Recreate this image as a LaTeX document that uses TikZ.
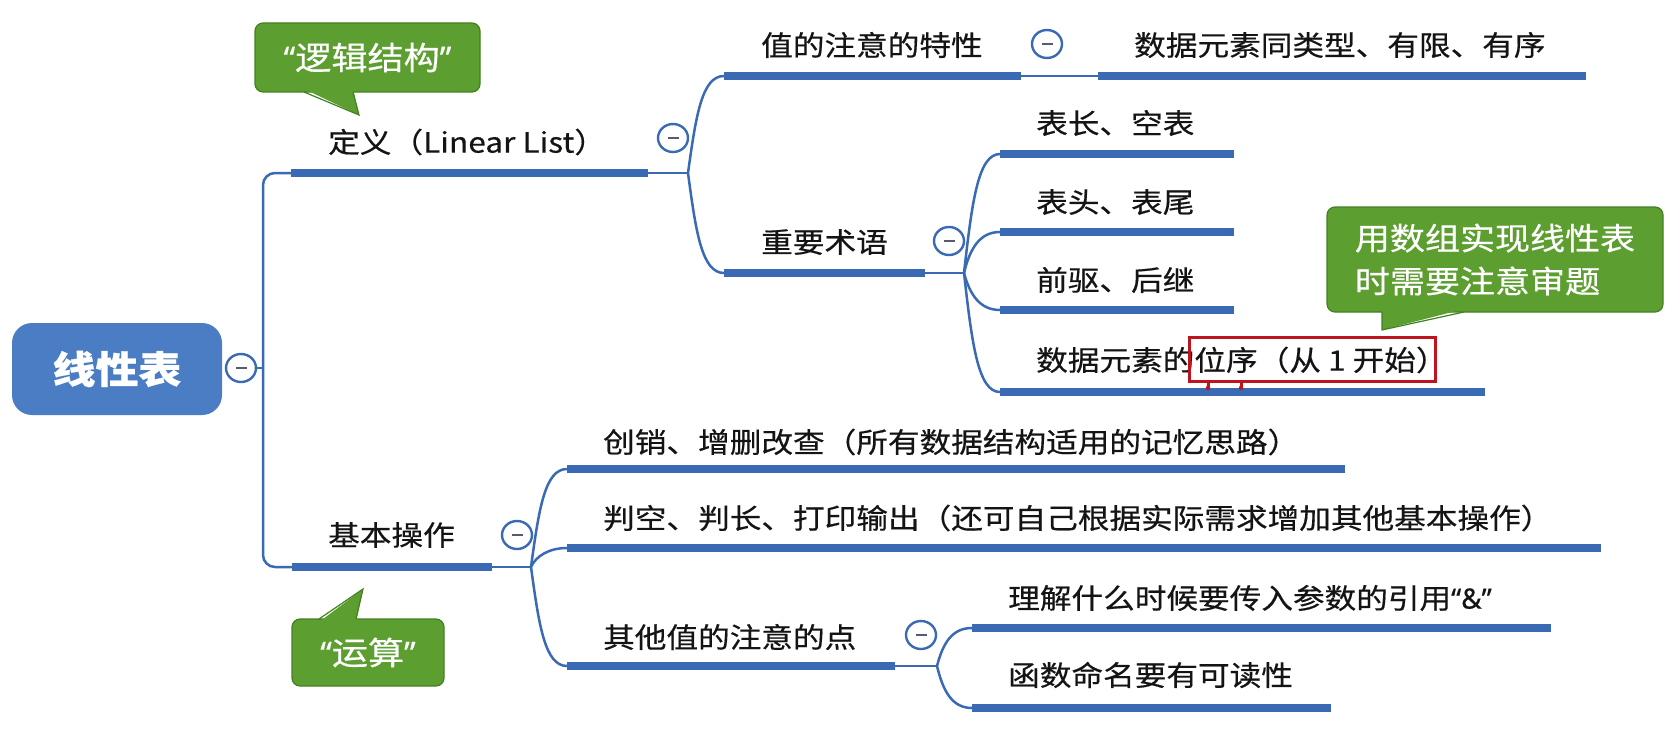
\documentclass[tikz,border=0pt]{standalone}
\usepackage{fontspec}
\usetikzlibrary{shapes.geometric}
\newfontfamily\cjk[FakeStretch=1.13,FakeBold=0.5]{Noto Sans CJK SC}
\newfontfamily\lat[FakeBold=0.5]{Noto Sans}
\definecolor{lineblue}{RGB}{58,106,180}
\definecolor{rootblue}{RGB}{74,125,195}
\definecolor{cgreen}{RGB}{92,158,48}
\definecolor{cborder}{RGB}{66,128,34}
\definecolor{txt}{RGB}{20,20,20}
\definecolor{minusgray}{RGB}{90,90,110}
\definecolor{hlred}{RGB}{190,20,30}
\begin{document}
\begin{tikzpicture}[x=1pt,y=-1pt,
  topic/.style={font=\cjk\fontsize{28}{34}\selectfont, text=txt, anchor=west, inner sep=0pt},
  bar/.style={line width=7.5pt, draw=lineblue},
  conn/.style={line width=2.5pt, draw=lineblue},
  collapse/.style={ellipse, draw=lineblue, line width=2.4pt, fill=white, minimum width=30pt, minimum height=28pt, inner sep=0pt,
    path picture={\draw[line width=2.8pt, minusgray] ([xshift=-5.5pt]path picture bounding box.center) -- ([xshift=5.5pt]path picture bounding box.center);}},
  callout/.style={rounded corners=8pt, fill=cgreen, draw=cborder, line width=1.2pt, text=white, inner sep=0pt},
  cfont/.style={font=\cjk\fontsize{32}{38}\selectfont}
]
\path[use as bounding box] (0,0) rectangle (1675,741);

% ---------- root ----------
\node[rounded corners=20pt, fill=rootblue, minimum width=210pt, minimum height=92pt, text=white,
      font=\cjk\bfseries\fontsize{38}{44}\selectfont] (root) at (117,369) {线性表};
\node[collapse] (rootc) at (241,368) {};
\coordinate (trunk) at (263,368);

% ---------- coordinates of bars ----------
\coordinate (defL) at (291,173);  \coordinate (defR) at (648,173);  \coordinate (J1) at (688,173);
\coordinate (vL) at (724,76);     \coordinate (vR) at (1021,76);
\coordinate (v1L) at (1098,76);   \coordinate (v1R) at (1586,76);
\coordinate (termL) at (724,273); \coordinate (termR) at (925,273); \coordinate (J2) at (964,273);
\coordinate (t1L) at (1000,154);  \coordinate (t1R) at (1234,154);
\coordinate (t2L) at (1000,232);  \coordinate (t2R) at (1234,232);
\coordinate (t3L) at (1000,310);  \coordinate (t3R) at (1234,310);
\coordinate (t4L) at (1000,392);  \coordinate (t4R) at (1485,392);
\coordinate (opsL) at (292,567);  \coordinate (opsR) at (492,567);  \coordinate (J3) at (531,567);
\coordinate (o1L) at (567,469);   \coordinate (o1R) at (1345,469);
\coordinate (o2L) at (567,548);   \coordinate (o2R) at (1601,548);
\coordinate (o3L) at (567,666);   \coordinate (o3R) at (895,666);   \coordinate (J4) at (937,666);
\coordinate (o31L) at (972,628);  \coordinate (o31R) at (1551,628);
\coordinate (o32L) at (972,708);  \coordinate (o32R) at (1331,708);

% ---------- trunk ----------
\draw[conn] (rootc.east) -- (trunk);
\draw[conn, rounded corners=12pt] (defL) -| (trunk) |- (opsL);

% ---------- bars ----------
\foreach \a in {def,v,v1,term,t1,t2,t3,t4,ops,o1,o2,o3,o31,o32}
  \draw[bar] (\a L) -- (\a R);

% ---------- thin connectors ----------
\draw[conn] (defR) -- (J1);
\draw[conn] (vR) -- (v1L);
\draw[conn] (termR) -- (J2);
\draw[conn] (opsR) -- (J3);
\draw[conn] (o3R) -- (J4);

\draw[conn] (J1) .. controls +(8,-58) and +(-22,0) .. (vL);
\draw[conn] (J1) .. controls +(8,60) and +(-22,0) .. (termL);

\draw[conn] (J2) .. controls +(8,-71) and +(-22,0) .. (t1L);
\draw[conn] (J2) .. controls +(6,-25) and +(-20,0) .. (t2L);
\draw[conn] (J2) .. controls +(6,22) and +(-20,0) .. (t3L);
\draw[conn] (J2) .. controls +(8,71) and +(-22,0) .. (t4L);

\draw[conn] (J3) .. controls +(8,-59) and +(-22,0) .. (o1L);
\draw[conn] (J3) .. controls +(5,-11) and +(-18,0) .. (o2L);
\draw[conn] (J3) .. controls +(8,59) and +(-22,0) .. (o3L);

\draw[conn] (J4) .. controls +(6,-23) and +(-20,0) .. (o31L);
\draw[conn] (J4) .. controls +(6,25) and +(-20,0) .. (o32L);

% ---------- collapse buttons ----------
\node[collapse] (cdef) at (673,138) {};
\node[collapse] (cv) at (1047,44) {};
\node[collapse] (cterm) at (949,241) {};
\node[collapse] (cops) at (517,535) {};
\node[collapse] (co3) at (921,635) {};

% ---------- texts ----------
\node[topic] (def) at (328,142) {定义（Linear List）};
\node[topic] (v) at (761,45) {值的注意的特性};
\node[topic] (v1) at (1134,45) {数据元素同类型、有限、有序};
\node[topic] (term) at (761,242) {重要术语};
\node[topic] (t1) at (1036,123) {表长、空表};
\node[topic] (t2) at (1036,202) {表头、表尾};
\node[topic] (t3) at (1036,280) {前驱、后继};
\node[topic] (t4) at (1036,360) {数据元素的位序（从 1 开始）};
\node[topic] (ops) at (328,535) {基本操作};
\node[topic] (o1) at (603,442) {创销、增删改查（所有数据结构适用的记忆思路）};
\node[topic] (o2) at (603,518) {判空、判长、打印输出（还可自己根据实际需求增加其他基本操作）};
\node[topic] (o3) at (603,637) {其他值的注意的点};
\node[topic] (o31) at (1008,598) {理解什么时候要传入参数的引用{\lat “\&”}};
\node[topic] (o32) at (1008,675) {函数命名要有可读性};

% ---------- highlight ----------
\node[draw=hlred, line width=3pt, minimum width=246pt, minimum height=44pt, inner sep=0pt] (hl) at (1312,359) {};
\draw[hlred, line width=3pt] (1208,381) -- (1208,387);
\draw[hlred, line width=3pt] (1241,381) -- (1241,387);
\fill[hlred] (1208,388) circle (2.2pt) (1241,388) circle (2.2pt);

% ---------- callouts ----------
\node[callout, cfont, minimum width=225pt, minimum height=69pt] (c1) at (367.5,57.5) {{\lat “}逻辑结构{\lat ”}};
\fill[cgreen] (304,89) -- (359,115) -- (353,89) -- cycle;
\draw[cborder, line width=1.2pt, line join=miter] (304,92) -- (359,115) -- (353,92);

\node[callout, minimum width=336pt, minimum height=105pt, font=\cjk\fontsize{31}{43}\selectfont, align=left] (c2) at (1495,259.5) {用数组实现线性表\\时需要注意审题};
\fill[cgreen] (1382,309) -- (1382,330) -- (1464,309) -- cycle;
\draw[cborder, line width=1.2pt] (1382,312) -- (1382,330) -- (1464,312);

\node[callout, cfont, minimum width=152pt, minimum height=67pt] (c3) at (368,652.5) {{\lat “}运算{\lat ”}};
\fill[cgreen] (319,622) -- (363,589) -- (356,622) -- cycle;
\draw[cborder, line width=1.2pt] (319,619) -- (363,589) -- (356,619);
\end{tikzpicture}
\end{document}
